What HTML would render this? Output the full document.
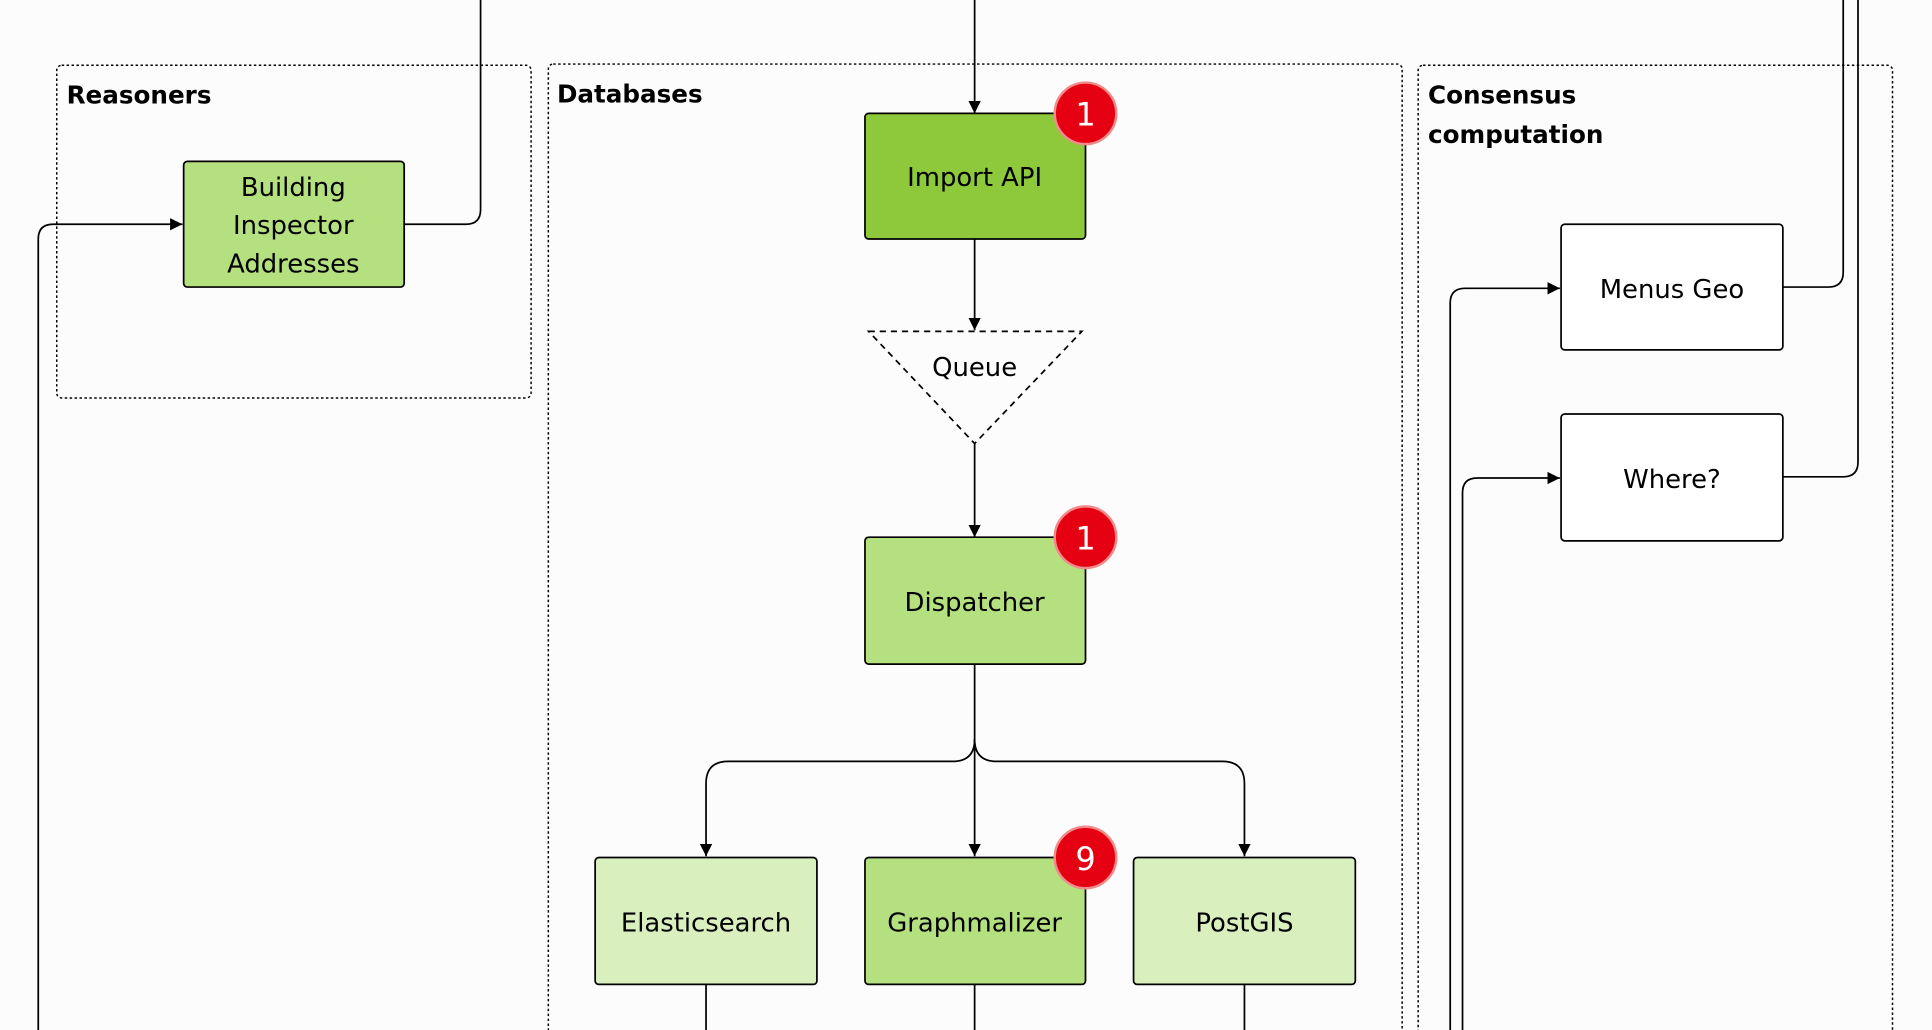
<!DOCTYPE html>
<html><head><meta charset="utf-8"><style>
html,body{margin:0;padding:0;background:#fcfcfc;width:1932px;height:1030px;overflow:hidden}
svg{display:block}
text{font-family:"DejaVu Sans","Liberation Sans",sans-serif;fill:#000}
</style></head><body>
<svg width="1932" height="1030" viewBox="0 0 1568 836" xmlns="http://www.w3.org/2000/svg">
<defs><marker id="a" markerWidth="10" markerHeight="10" refX="10" refY="5" orient="auto" markerUnits="userSpaceOnUse"><path d="M0,0 L10,5 L0,10 Z" fill="#000"/></marker></defs>
<rect width="1568" height="836" fill="#fcfcfc"/>
<g fill="none" stroke="#000" stroke-width="1.2" stroke-dasharray="2,2">
<rect x="46" y="53" width="385" height="270" rx="4"/>
<rect x="445" y="52" width="693" height="800" rx="4"/>
<rect x="1151" y="53" width="385" height="800" rx="4"/>
</g>
<g font-weight="bold" font-size="20">
<text x="54" y="84">Reasoners</text>
<text x="452" y="83">Databases</text>
<text x="1159" y="84">Consensus</text>
<text x="1159" y="116">computation</text>
</g>
<g fill="none" stroke="#000" stroke-width="1.4">
<path d="M328,182 H378 Q390,182 390,170 V0"/>
<path d="M31,840 V194 Q31,182 43,182 H148" marker-end="url(#a)"/>
<path d="M791,0 V92" marker-end="url(#a)"/>
<path d="M791,194 V268" marker-end="url(#a)"/>
<path d="M791,360 V436" marker-end="url(#a)"/>
<path d="M791,539 V695" marker-end="url(#a)"/>
<path d="M791,600 Q791,618 773,618 H591 Q573,618 573,636 V695" marker-end="url(#a)"/>
<path d="M791,600 Q791,618 809,618 H992 Q1010,618 1010,636 V695" marker-end="url(#a)"/>
<path d="M573,799 V840 M791,799 V840 M1010,799 V840"/>
<path d="M1447,233 H1484 Q1496,233 1496,221 V0"/>
<path d="M1447,387 H1496 Q1508,387 1508,375 V0"/>
<path d="M1177,840 V246 Q1177,234 1189,234 H1266" marker-end="url(#a)"/>
<path d="M1187,840 V400 Q1187,388 1199,388 H1266" marker-end="url(#a)"/>
</g>
<g stroke="#000" stroke-width="1.4">
<rect x="149" y="131" width="179" height="102" rx="3" fill="#b5e07f"/>
<rect x="702" y="92" width="179" height="102" rx="3" fill="#8dc93b"/>
<rect x="702" y="436" width="179" height="103" rx="3" fill="#b5e07f"/>
<rect x="483" y="696" width="180" height="103" rx="3" fill="#d9efbd"/>
<rect x="702" y="696" width="179" height="103" rx="3" fill="#b5e07f"/>
<rect x="920" y="696" width="180" height="103" rx="3" fill="#d9efbd"/>
<rect x="1267" y="182" width="180" height="102" rx="3" fill="#fff"/>
<rect x="1267" y="336" width="180" height="103" rx="3" fill="#fff"/>
<path d="M705,269 H878 L791,360 Z" fill="none" stroke-dasharray="5,4"/>
</g>
<g font-size="21" text-anchor="middle">
<text x="238" y="159">Building</text>
<text x="238" y="190">Inspector</text>
<text x="238" y="221">Addresses</text>
<text x="791" y="151">Import API</text>
<text x="791" y="305">Queue</text>
<text x="791" y="496">Dispatcher</text>
<text x="573" y="756">Elasticsearch</text>
<text x="791" y="756">Graphmalizer</text>
<text x="1010" y="756">PostGIS</text>
<text x="1357" y="242">Menus Geo</text>
<text x="1357" y="396">Where?</text>
</g>
<g>
<circle cx="881" cy="92" r="25" fill="#e50012" stroke="#f28c8c" stroke-width="2"/>
<circle cx="881" cy="436" r="25" fill="#e50012" stroke="#f28c8c" stroke-width="2"/>
<circle cx="881" cy="696" r="25" fill="#e50012" stroke="#f28c8c" stroke-width="2"/>
<g font-size="26" text-anchor="middle">
<text x="881" y="102" style="fill:#fff">1</text>
<text x="881" y="446" style="fill:#fff">1</text>
<text x="881" y="706" style="fill:#fff">9</text>
</g>
</g>
</svg>
</body></html>
